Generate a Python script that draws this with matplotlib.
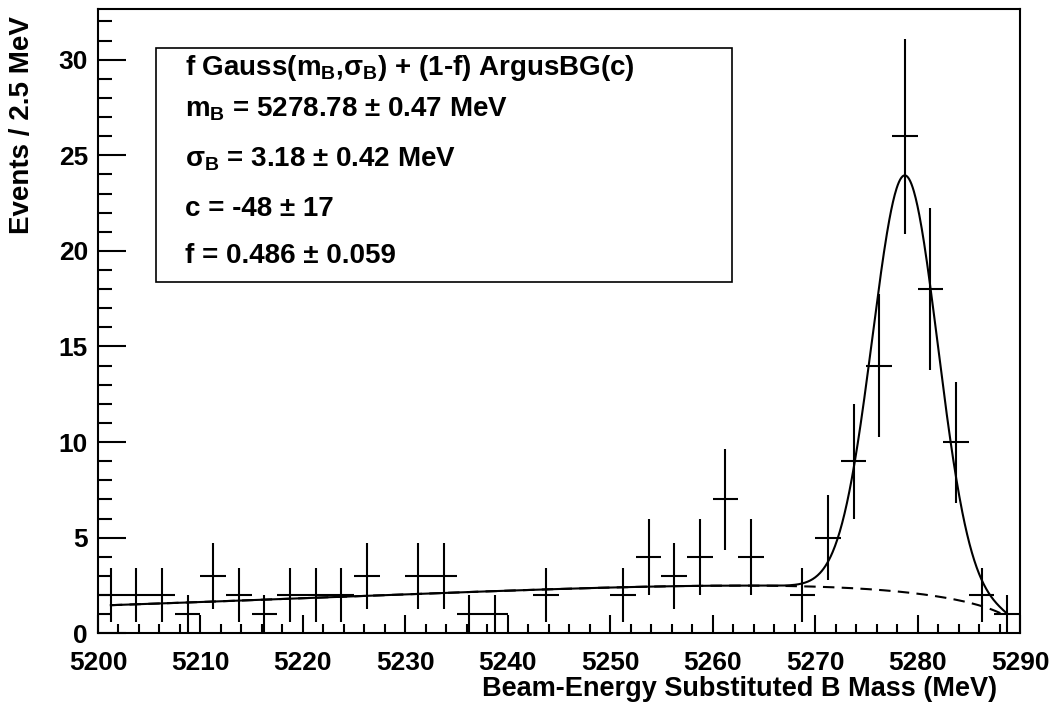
import numpy as np
import matplotlib
matplotlib.use('Agg')
from matplotlib import pyplot as plt
from matplotlib.patches import Rectangle
from matplotlib.ticker import MultipleLocator

plt.rcParams['font.family'] = 'Liberation Sans'
plt.rcParams['font.weight'] = 'bold'
plt.rcParams['mathtext.fontset'] = 'custom'
plt.rcParams['mathtext.rm'] = 'Liberation Sans:bold'
plt.rcParams['mathtext.it'] = 'Liberation Sans:bold'
plt.rcParams['mathtext.bf'] = 'Liberation Sans:bold'


## binned data: events per 2.5 MeV bin, 5200 - 5290 MeV
bin_lo = 5200.0
bin_hi = 5290.0
bin_width = 2.5
counts = np.array([2, 2, 2, 1, 3, 2, 1, 2, 2, 2, 3, 0, 3, 3, 1, 1, 0, 2,
                   0, 0, 2, 4, 3, 4, 7, 4, 0, 2, 5, 9, 14, 26, 18, 10, 2, 1])

## fit results
m_b, m_b_err = 5278.78, 0.47
sigma_b, sigma_b_err = 3.18, 0.42
argus_c, argus_c_err = -48, 17
frac, frac_err = 0.486, 0.059
m_end = 5290.0   # ARGUS endpoint

centers = bin_lo + bin_width*(np.arange(len(counts)) + 0.5)


## fit model: f Gauss + (1-f) ARGUS, scaled to events per bin
def argus(x):
    z = np.clip(1 - (x/m_end)**2, 0, None)
    return x*np.sqrt(z)*np.exp(argus_c*z)

def gauss(x):
    return np.exp(-0.5*((x - m_b)/sigma_b)**2)

grid = np.linspace(bin_lo, bin_hi, 20001)
argus_norm = np.trapezoid(argus(grid), grid)
gauss_norm = np.trapezoid(gauss(grid), grid)
n_tot = counts.sum()

m = np.linspace(centers[0], centers[-1], 1500)
bkg = n_tot*(1 - frac)*bin_width*argus(m)/argus_norm
sig = n_tot*frac*bin_width*gauss(m)/gauss_norm


## plot
W, H = 1055, 703
fig = plt.figure(figsize=(W/100, H/100), dpi=100)
ax = fig.add_axes([98/W, 1 - 633.3/H, (1020 - 98)/W, (633.3 - 9)/H])

nz = counts > 0
ax.errorbar(centers[nz], counts[nz], xerr=bin_width/2, yerr=np.sqrt(counts[nz]),
            fmt='none', ecolor='black', elinewidth=1.5, capsize=0)
ax.plot(m, bkg, color='black', lw=1.5, ls=(0, (5.5, 3.5)))
ax.plot(m, sig + bkg, color='black', lw=1.5)

ax.set_xlim(bin_lo, bin_hi)
ax.set_ylim(0, 32.65)
ax.xaxis.set_major_locator(MultipleLocator(10))
ax.xaxis.set_minor_locator(MultipleLocator(2))
ax.yaxis.set_major_locator(MultipleLocator(5))
ax.yaxis.set_minor_locator(MultipleLocator(1))
ax.tick_params(which='both', direction='in', top=False, right=False,
               width=1.5, labelsize=19)
ax.tick_params(axis='x', which='major', length=13, pad=12.6)
ax.tick_params(axis='x', which='minor', length=6.5)
ax.tick_params(axis='y', which='major', length=20, pad=7.2)
ax.tick_params(axis='y', which='minor', length=10)
for s in ax.spines.values():
    s.set_linewidth(1.5)

fig.text(997/W, (H - 695.5)/H, 'Beam-Energy Substituted B Mass (MeV)',
         ha='right', va='baseline', fontsize=19.5)
fig.text(21.7/W, 1 - 16.6/H, 'Events / 2.5 MeV', rotation=90,
         ha='center', va='top', fontsize=20)

## fit parameter box
fig.patches.append(Rectangle((155.7/W, 1 - 281.7/H), (732 - 155.7)/W, 234/H,
                             transform=fig.transFigure, fill=False,
                             edgecolor='black', lw=1.2))
lines = [
    r'f Gauss(m$_{\rm B}$,σ$_{\rm B}$) + (1-f) ArgusBG(c)',
    r'm$_{\rm B}$ = %.2f ± %.2f MeV' % (m_b, m_b_err),
    r'σ$_{\rm B}$ = %.2f ± %.2f MeV' % (sigma_b, sigma_b_err),
    'c = %d ± %d' % (argus_c, argus_c_err),
    'f = %.3f ± %.3f' % (frac, frac_err),
]
baselines = [75, 116.7, 166.7, 216, 263.3]
for txt, yb in zip(lines, baselines):
    fig.text(185/W, 1 - yb/H, txt, ha='left', va='baseline', fontsize=20)

plt.savefig('out.png', dpi=100)
